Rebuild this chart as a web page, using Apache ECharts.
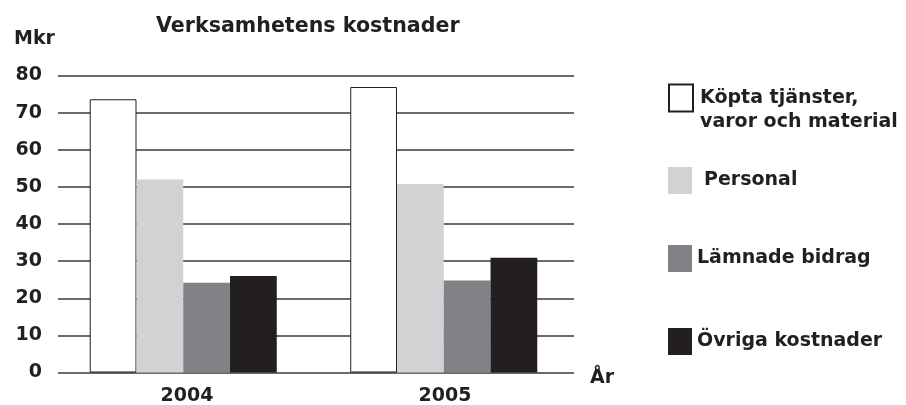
<!DOCTYPE html>
<html><head><meta charset="utf-8">
<script src="https://cdn.jsdelivr.net/npm/echarts@6/dist/echarts.min.js"></script>
<style>html,body{margin:0;padding:0;background:#fff}#c{width:906px;height:405px}</style>
</head><body><div id="c"></div>
<script>
const categories = ['2004', '2005'];
const seriesNames = ['Köpta tjänster,\nvaror och material', 'Personal', 'Lämnade bidrag', 'Övriga kostnader'];
const kopta = [73.6, 76.9];
const personal = [52.0, 50.8];
const lamnade = [24.2, 24.8];
const ovriga = [26.0, 30.9];
const yTicks = [0, 10, 20, 30, 40, 50, 60, 70, 80];

const FONT = '"DejaVu Sans"';
const INK = '#231f20';
const colors = ['#ffffff', '#d1d2d4', '#808285', '#231f20'];
const values = [kopta, personal, lamnade, ovriga];
const legendTops = [57, 162, 240, 323];
const legendPad = [[0, 0, 0, 2], [0, 0, 0, 7], [0, 0, 0, 0], [0, 0, 0, 0]];

const yMin = yTicks[0], yMax = yTicks[yTicks.length - 1], yStep = yTicks[1] - yTicks[0];

const chart = echarts.init(document.getElementById('c'));
chart.setOption({
  animation: false,
  backgroundColor: '#fff',
  title: [
    { text: 'Verksamhetens kostnader', left: 156, top: 16.5, padding: 0,
      textStyle: { fontFamily: FONT, fontWeight: 'bold', fontSize: 20.6, color: INK } },
    { text: 'Mkr', left: 14, top: 30, padding: 0,
      textStyle: { fontFamily: FONT, fontWeight: 'bold', fontSize: 19, color: INK } },
    { text: 'År', left: 590, top: 369, padding: 0,
      textStyle: { fontFamily: FONT, fontWeight: 'bold', fontSize: 19, color: INK } }
  ],
  grid: [
    { left: 58, right: 332, top: 75.5, bottom: 32.5, containLabel: false, outerBoundsMode: 'none' },
    { left: 53, right: 332, top: 75.5, bottom: 32.5, containLabel: false, outerBoundsMode: 'none' }
  ],
  xAxis: [
    { type: 'category', data: categories, gridIndex: 0,
      axisLine: { show: false }, axisTick: { show: false },
      axisLabel: { fontFamily: FONT, fontWeight: 'bold', fontSize: 19, color: INK, margin: 14 } },
    { type: 'category', data: categories, gridIndex: 1, show: false }
  ],
  yAxis: [
    { type: 'value', min: yMin, max: yMax, interval: yStep, gridIndex: 0,
      axisLine: { show: false }, axisTick: { show: false },
      axisLabel: { fontFamily: FONT, fontWeight: 'bold', fontSize: 19, color: INK, margin: 16, align: 'right' },
      splitLine: { lineStyle: { color: '#3a3a3a', width: 1.5 } } },
    { type: 'value', min: yMin, max: yMax, interval: yStep, gridIndex: 1, show: false, splitLine: { show: false } }
  ],
  legend: seriesNames.map((n, i) => ({
    data: [n], left: 663, top: legendTops[i], orient: 'vertical',
    icon: 'rect', itemWidth: 24, itemHeight: 27, itemGap: 8,
    formatter: i === 0 ? (name => '\n' + name) : undefined,
    textStyle: { fontFamily: FONT, fontWeight: 'bold', fontSize: 19, color: INK,
      lineHeight: 24, padding: legendPad[i] },
    selectedMode: false
  })),
  series: seriesNames.map((n, i) => ({
    name: n, type: 'bar', data: values[i], xAxisIndex: 1, yAxisIndex: 1,
    barGap: '0%', barCategoryGap: '28.2%',
    itemStyle: i === 0 ? { color: colors[i], borderColor: INK, borderWidth: 1 } : { color: colors[i] }
  }))
});
</script></body></html>
